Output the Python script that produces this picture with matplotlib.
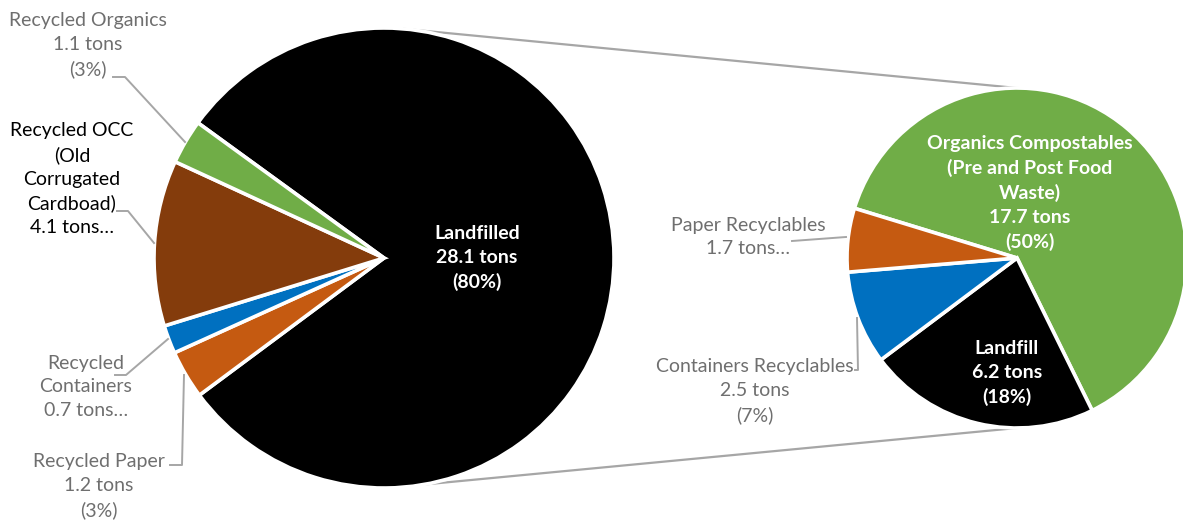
import numpy as np
import matplotlib
matplotlib.use("Agg")
from matplotlib import pyplot as plt

# main pie
main_labels = ["Landfilled", "Recycled Paper", "Recycled Containers",
               "Recycled OCC (Old Corrugated Cardboad)", "Recycled Organics"]
main_tons = [28.1, 1.2, 0.7, 4.1, 1.1]
main_pct = [80, 3, 2, 12, 3]
main_colors = ["#000000", "#C55A11", "#0070C0", "#843C0C", "#70AD47"]

# breakdown of the landfilled part
sub_labels = ["Organics Compostables (Pre and Post Food Waste)", "Landfill",
              "Containers Recyclables", "Paper Recyclables"]
sub_tons = [17.7, 6.2, 2.5, 1.7]
sub_pct = [50, 18, 7, 5]
sub_colors = ["#70AD47", "#000000", "#0070C0", "#C55A11"]

W, H = 1183, 525
plt.rcParams['font.family'] = ['Lato', 'DejaVu Sans']
GRAY = "#6f6f6f"
LINE = "#A6A6A6"

fig = plt.figure(figsize=(W / 100, H / 100), dpi=100)
ax = fig.add_axes([0, 0, 1, 1])

def Y(py):
    return H - py

c1, r1 = (384, Y(258)), 230
c2, r2 = (1017, Y(258)), 170

ax.pie(main_tons, colors=main_colors, center=c1, radius=r1, startangle=144,
       counterclock=False, wedgeprops=dict(edgecolor="white", linewidth=2.6))
ax.pie(sub_tons, colors=sub_colors, center=c2, radius=r2, startangle=163,
       counterclock=False, wedgeprops=dict(edgecolor="white", linewidth=2.6))

# connector lines between the pies
a_top, a_bot = np.radians(85), np.radians(-80)
ax.plot([c1[0] + r1 * np.cos(a_top), c2[0]], [c1[1] + r1 * np.sin(a_top), c2[1] + r2],
        color=LINE, lw=1.6, zorder=0)
ax.plot([c1[0] + r1 * np.cos(a_bot), c2[0]], [c1[1] + r1 * np.sin(a_bot), c2[1] - r2],
        color=LINE, lw=1.6, zorder=0)

def lab(x, py, s, color=GRAY, bold=False):
    ax.text(x, Y(py), s, color=color, fontweight="bold" if bold else "normal",
            fontsize=14, ha="center", va="center", linespacing=1.47)

def leader(pts):
    xs = [p[0] for p in pts]
    ys = [Y(p[1]) for p in pts]
    ax.plot(xs, ys, color=LINE, lw=1.4, zorder=1)

# left pie labels
lab(477, 258, f"{main_labels[0]}\n{main_tons[0]} tons\n({main_pct[0]}%)", "white", True)
lab(88, 45, f"{main_labels[4]}\n{main_tons[4]} tons\n({main_pct[4]}%)")
leader([(113, 77), (125, 77), (185, 142)])
lab(72, 179, "Recycled OCC\n(Old\nCorrugated\nCardboad)\n" + f"{main_tons[3]} tons…", "black")
leader([(117, 211), (128, 211), (154, 243)])
lab(86, 387, "Recycled\nContainers\n" + f"{main_tons[2]} tons…")
leader([(115, 375), (126, 375), (168, 339)])
lab(99, 486, f"{main_labels[1]}\n{main_tons[1]} tons\n({main_pct[1]}%)")
leader([(170, 465), (182, 465), (184, 375)])

# right pie labels
lab(1030, 193, "Organics Compostables\n(Pre and Post Food\nWaste)\n" +
    f"{sub_tons[0]} tons\n({sub_pct[0]}%)", "white", True)
lab(1007, 373, f"{sub_labels[1]}\n{sub_tons[1]} tons\n({sub_pct[1]}%)", "white", True)
lab(748, 237, f"{sub_labels[3]}\n{sub_tons[3]} tons…")
leader([(792, 241), (846, 237)])
lab(755, 391, f"{sub_labels[2]}\n{sub_tons[2]} tons\n({sub_pct[2]}%)")
leader([(855, 370), (858, 370), (857, 318)])

ax.set_xlim(0, W)
ax.set_ylim(0, H)
ax.set_aspect("equal")
ax.axis("off")
fig.savefig("out.png", dpi=100)
